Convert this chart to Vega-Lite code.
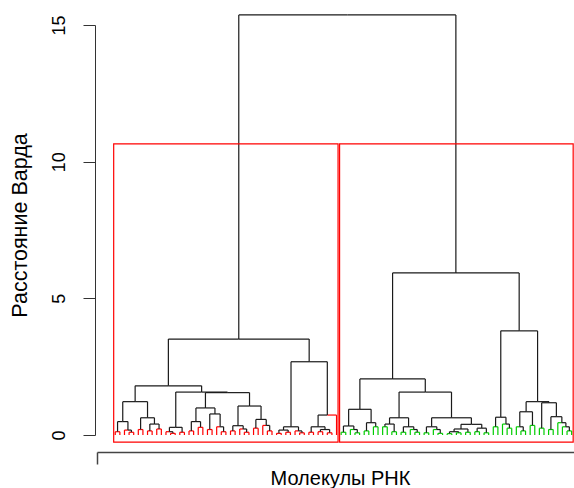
{
  "$schema": "https://vega.github.io/schema/vega-lite/v6.json",
  "width": 477,
  "height": 410,
  "autosize": {"type": "none"},
  "padding": {"left": 97, "top": 25, "right": 0, "bottom": 53},
  "config": {"view": {"stroke": null}, "font": "Liberation Sans"},
  "datasets": {
    "boxes": [
      {"x1": 0.66, "x2": 49.33, "y1": -0.26, "y2": 10.65},
      {"x1": 49.66, "x2": 100.33, "y1": -0.26, "y2": 10.65}
    ],
    "edges": [
      {"a":51.34,"b":15.37,"c":27.793,"d":3.51,"g":"k"},
      {"a":51.34,"b":15.37,"c":74.887,"d":5.93,"g":"k"},
      {"a":27.793,"b":3.51,"c":12.523,"d":1.8,"g":"k"},
      {"a":27.793,"b":3.51,"c":43.063,"d":2.68,"g":"k"},
      {"a":12.523,"b":1.8,"c":5.313,"d":1.22,"g":"k"},
      {"a":12.523,"b":1.8,"c":19.734,"d":1.57,"g":"k"},
      {"a":5.313,"b":1.22,"c":2.625,"d":0.49,"g":"k"},
      {"a":5.313,"b":1.22,"c":8,"d":0.63,"g":"k"},
      {"a":2.625,"b":0.49,"c":1.5,"d":0.12,"g":"k"},
      {"a":2.625,"b":0.49,"c":3.75,"d":0.18,"g":"k"},
      {"a":1.5,"b":0.12,"c":1,"d":0,"g":"r"},
      {"a":1.5,"b":0.12,"c":2,"d":0,"g":"r"},
      {"a":3.75,"b":0.18,"c":3,"d":0,"g":"r"},
      {"a":3.75,"b":0.18,"c":4.5,"d":0.1,"g":"k"},
      {"a":4.5,"b":0.1,"c":4,"d":0,"g":"r"},
      {"a":4.5,"b":0.1,"c":5,"d":0,"g":"r"},
      {"a":8,"b":0.63,"c":6.5,"d":0.2,"g":"k"},
      {"a":8,"b":0.63,"c":9.5,"d":0.4,"g":"k"},
      {"a":6.5,"b":0.2,"c":6,"d":0,"g":"r"},
      {"a":6.5,"b":0.2,"c":7,"d":0,"g":"r"},
      {"a":9.5,"b":0.4,"c":8.5,"d":0.15,"g":"k"},
      {"a":9.5,"b":0.4,"c":10.5,"d":0.22,"g":"k"},
      {"a":8.5,"b":0.15,"c":8,"d":0,"g":"r"},
      {"a":8.5,"b":0.15,"c":9,"d":0,"g":"r"},
      {"a":10.5,"b":0.22,"c":10,"d":0,"g":"r"},
      {"a":10.5,"b":0.22,"c":11,"d":0,"g":"r"},
      {"a":19.734,"b":1.57,"c":14.125,"d":0.28,"g":"k"},
      {"a":19.734,"b":1.57,"c":25.344,"d":1.55,"g":"k"},
      {"a":14.125,"b":0.28,"c":12.75,"d":0.12,"g":"k"},
      {"a":14.125,"b":0.28,"c":15.5,"d":0.1,"g":"k"},
      {"a":12.75,"b":0.12,"c":12,"d":0,"g":"r"},
      {"a":12.75,"b":0.12,"c":13.5,"d":0.06,"g":"k"},
      {"a":13.5,"b":0.06,"c":13,"d":0,"g":"r"},
      {"a":13.5,"b":0.06,"c":14,"d":0,"g":"r"},
      {"a":15.5,"b":0.1,"c":15,"d":0,"g":"r"},
      {"a":15.5,"b":0.1,"c":16,"d":0,"g":"r"},
      {"a":25.344,"b":1.55,"c":20.563,"d":0.99,"g":"k"},
      {"a":25.344,"b":1.55,"c":30.125,"d":1.06,"g":"k"},
      {"a":20.563,"b":0.99,"c":18.5,"d":0.49,"g":"k"},
      {"a":20.563,"b":0.99,"c":22.625,"d":0.77,"g":"k"},
      {"a":18.5,"b":0.49,"c":17.5,"d":0.15,"g":"k"},
      {"a":18.5,"b":0.49,"c":19.5,"d":0.28,"g":"k"},
      {"a":17.5,"b":0.15,"c":17,"d":0,"g":"r"},
      {"a":17.5,"b":0.15,"c":18,"d":0,"g":"r"},
      {"a":19.5,"b":0.28,"c":19,"d":0,"g":"r"},
      {"a":19.5,"b":0.28,"c":20,"d":0,"g":"r"},
      {"a":22.625,"b":0.77,"c":21.5,"d":0.2,"g":"k"},
      {"a":22.625,"b":0.77,"c":23.75,"d":0.3,"g":"k"},
      {"a":21.5,"b":0.2,"c":21,"d":0,"g":"r"},
      {"a":21.5,"b":0.2,"c":22,"d":0,"g":"r"},
      {"a":23.75,"b":0.3,"c":23,"d":0,"g":"r"},
      {"a":23.75,"b":0.3,"c":24.5,"d":0.12,"g":"k"},
      {"a":24.5,"b":0.12,"c":24,"d":0,"g":"r"},
      {"a":24.5,"b":0.12,"c":25,"d":0,"g":"r"},
      {"a":30.125,"b":1.06,"c":27.625,"d":0.34,"g":"k"},
      {"a":30.125,"b":1.06,"c":32.625,"d":0.57,"g":"k"},
      {"a":27.625,"b":0.34,"c":26.5,"d":0.15,"g":"k"},
      {"a":27.625,"b":0.34,"c":28.75,"d":0.22,"g":"k"},
      {"a":26.5,"b":0.15,"c":26,"d":0,"g":"r"},
      {"a":26.5,"b":0.15,"c":27,"d":0,"g":"r"},
      {"a":28.75,"b":0.22,"c":28,"d":0,"g":"r"},
      {"a":28.75,"b":0.22,"c":29.5,"d":0.1,"g":"k"},
      {"a":29.5,"b":0.1,"c":29,"d":0,"g":"r"},
      {"a":29.5,"b":0.1,"c":30,"d":0,"g":"r"},
      {"a":32.625,"b":0.57,"c":31.5,"d":0.25,"g":"k"},
      {"a":32.625,"b":0.57,"c":33.75,"d":0.35,"g":"k"},
      {"a":31.5,"b":0.25,"c":31,"d":0,"g":"r"},
      {"a":31.5,"b":0.25,"c":32,"d":0,"g":"r"},
      {"a":33.75,"b":0.35,"c":33,"d":0,"g":"r"},
      {"a":33.75,"b":0.35,"c":34.5,"d":0.15,"g":"k"},
      {"a":34.5,"b":0.15,"c":34,"d":0,"g":"r"},
      {"a":34.5,"b":0.15,"c":35,"d":0,"g":"r"},
      {"a":43.063,"b":2.68,"c":39.125,"d":0.3,"g":"k"},
      {"a":43.063,"b":2.68,"c":47,"d":0.73,"g":"k"},
      {"a":39.125,"b":0.3,"c":37.5,"d":0.18,"g":"k"},
      {"a":39.125,"b":0.3,"c":40.75,"d":0.15,"g":"k"},
      {"a":37.5,"b":0.18,"c":36.5,"d":0.06,"g":"k"},
      {"a":37.5,"b":0.18,"c":38.5,"d":0.1,"g":"k"},
      {"a":36.5,"b":0.06,"c":36,"d":0,"g":"r"},
      {"a":36.5,"b":0.06,"c":37,"d":0,"g":"r"},
      {"a":38.5,"b":0.1,"c":38,"d":0,"g":"r"},
      {"a":38.5,"b":0.1,"c":39,"d":0,"g":"r"},
      {"a":40.75,"b":0.15,"c":40,"d":0,"g":"r"},
      {"a":40.75,"b":0.15,"c":41.5,"d":0.08,"g":"k"},
      {"a":41.5,"b":0.08,"c":41,"d":0,"g":"r"},
      {"a":41.5,"b":0.08,"c":42,"d":0,"g":"r"},
      {"a":47,"b":0.73,"c":45,"d":0.3,"g":"k"},
      {"a":47,"b":0.73,"c":49,"d":0,"g":"r"},
      {"a":45,"b":0.3,"c":43.5,"d":0.1,"g":"k"},
      {"a":45,"b":0.3,"c":46.5,"d":0.2,"g":"k"},
      {"a":43.5,"b":0.1,"c":43,"d":0,"g":"r"},
      {"a":43.5,"b":0.1,"c":44,"d":0,"g":"r"},
      {"a":46.5,"b":0.2,"c":45.5,"d":0.12,"g":"k"},
      {"a":46.5,"b":0.2,"c":47.5,"d":0.08,"g":"k"},
      {"a":45.5,"b":0.12,"c":45,"d":0,"g":"r"},
      {"a":45.5,"b":0.12,"c":46,"d":0,"g":"r"},
      {"a":47.5,"b":0.08,"c":47,"d":0,"g":"r"},
      {"a":47.5,"b":0.08,"c":48,"d":0,"g":"r"},
      {"a":74.887,"b":5.93,"c":61.156,"d":2.05,"g":"k"},
      {"a":74.887,"b":5.93,"c":88.617,"d":3.81,"g":"k"},
      {"a":61.156,"b":2.05,"c":54.063,"d":0.94,"g":"k"},
      {"a":61.156,"b":2.05,"c":68.25,"d":1.57,"g":"k"},
      {"a":54.063,"b":0.94,"c":51.625,"d":0.33,"g":"k"},
      {"a":54.063,"b":0.94,"c":56.5,"d":0.45,"g":"k"},
      {"a":51.625,"b":0.33,"c":50.5,"d":0.1,"g":"k"},
      {"a":51.625,"b":0.33,"c":52.75,"d":0.2,"g":"k"},
      {"a":50.5,"b":0.1,"c":50,"d":0,"g":"g"},
      {"a":50.5,"b":0.1,"c":51,"d":0,"g":"g"},
      {"a":52.75,"b":0.2,"c":52,"d":0,"g":"g"},
      {"a":52.75,"b":0.2,"c":53.5,"d":0.08,"g":"k"},
      {"a":53.5,"b":0.08,"c":53,"d":0,"g":"g"},
      {"a":53.5,"b":0.08,"c":54,"d":0,"g":"g"},
      {"a":56.5,"b":0.45,"c":55.5,"d":0.15,"g":"k"},
      {"a":56.5,"b":0.45,"c":57.5,"d":0.3,"g":"k"},
      {"a":55.5,"b":0.15,"c":55,"d":0,"g":"g"},
      {"a":55.5,"b":0.15,"c":56,"d":0,"g":"g"},
      {"a":57.5,"b":0.3,"c":57,"d":0,"g":"g"},
      {"a":57.5,"b":0.3,"c":58,"d":0,"g":"g"},
      {"a":68.25,"b":1.57,"c":62.563,"d":0.63,"g":"k"},
      {"a":68.25,"b":1.57,"c":73.938,"d":0.63,"g":"k"},
      {"a":62.563,"b":0.63,"c":60.5,"d":0.4,"g":"k"},
      {"a":62.563,"b":0.63,"c":64.625,"d":0.3,"g":"k"},
      {"a":60.5,"b":0.4,"c":59.5,"d":0.3,"g":"k"},
      {"a":60.5,"b":0.4,"c":61.5,"d":0.12,"g":"k"},
      {"a":59.5,"b":0.3,"c":59,"d":0,"g":"g"},
      {"a":59.5,"b":0.3,"c":60,"d":0,"g":"g"},
      {"a":61.5,"b":0.12,"c":61,"d":0,"g":"g"},
      {"a":61.5,"b":0.12,"c":62,"d":0,"g":"g"},
      {"a":64.625,"b":0.3,"c":63.5,"d":0.1,"g":"k"},
      {"a":64.625,"b":0.3,"c":65.75,"d":0.2,"g":"k"},
      {"a":63.5,"b":0.1,"c":63,"d":0,"g":"g"},
      {"a":63.5,"b":0.1,"c":64,"d":0,"g":"g"},
      {"a":65.75,"b":0.2,"c":65,"d":0,"g":"g"},
      {"a":65.75,"b":0.2,"c":66.5,"d":0.1,"g":"k"},
      {"a":66.5,"b":0.1,"c":66,"d":0,"g":"g"},
      {"a":66.5,"b":0.1,"c":67,"d":0,"g":"g"},
      {"a":73.938,"b":0.63,"c":69.625,"d":0.3,"g":"k"},
      {"a":73.938,"b":0.63,"c":78.25,"d":0.39,"g":"k"},
      {"a":69.625,"b":0.3,"c":68.5,"d":0.08,"g":"k"},
      {"a":69.625,"b":0.3,"c":70.75,"d":0.2,"g":"k"},
      {"a":68.5,"b":0.08,"c":68,"d":0,"g":"g"},
      {"a":68.5,"b":0.08,"c":69,"d":0,"g":"g"},
      {"a":70.75,"b":0.2,"c":70,"d":0,"g":"g"},
      {"a":70.75,"b":0.2,"c":71.5,"d":0.06,"g":"k"},
      {"a":71.5,"b":0.06,"c":71,"d":0,"g":"g"},
      {"a":71.5,"b":0.06,"c":72,"d":0,"g":"g"},
      {"a":78.25,"b":0.39,"c":76,"d":0.22,"g":"k"},
      {"a":78.25,"b":0.39,"c":80.5,"d":0.25,"g":"k"},
      {"a":76,"b":0.22,"c":74.5,"d":0.12,"g":"k"},
      {"a":76,"b":0.22,"c":77.5,"d":0.1,"g":"k"},
      {"a":74.5,"b":0.12,"c":73.5,"d":0.05,"g":"k"},
      {"a":74.5,"b":0.12,"c":75.5,"d":0.08,"g":"k"},
      {"a":73.5,"b":0.05,"c":73,"d":0,"g":"g"},
      {"a":73.5,"b":0.05,"c":74,"d":0,"g":"g"},
      {"a":75.5,"b":0.08,"c":75,"d":0,"g":"g"},
      {"a":75.5,"b":0.08,"c":76,"d":0,"g":"g"},
      {"a":77.5,"b":0.1,"c":77,"d":0,"g":"g"},
      {"a":77.5,"b":0.1,"c":78,"d":0,"g":"g"},
      {"a":80.5,"b":0.25,"c":79.5,"d":0.12,"g":"k"},
      {"a":80.5,"b":0.25,"c":81.5,"d":0.08,"g":"k"},
      {"a":79.5,"b":0.12,"c":79,"d":0,"g":"g"},
      {"a":79.5,"b":0.12,"c":80,"d":0,"g":"g"},
      {"a":81.5,"b":0.08,"c":81,"d":0,"g":"g"},
      {"a":81.5,"b":0.08,"c":82,"d":0,"g":"g"},
      {"a":88.617,"b":3.81,"c":84.625,"d":0.65,"g":"k"},
      {"a":88.617,"b":3.81,"c":92.609,"d":1.22,"g":"k"},
      {"a":84.625,"b":0.65,"c":83.5,"d":0.3,"g":"k"},
      {"a":84.625,"b":0.65,"c":85.75,"d":0.4,"g":"k"},
      {"a":83.5,"b":0.3,"c":83,"d":0,"g":"g"},
      {"a":83.5,"b":0.3,"c":84,"d":0,"g":"g"},
      {"a":85.75,"b":0.4,"c":85,"d":0,"g":"g"},
      {"a":85.75,"b":0.4,"c":86.5,"d":0.25,"g":"k"},
      {"a":86.5,"b":0.25,"c":86,"d":0,"g":"g"},
      {"a":86.5,"b":0.25,"c":87,"d":0,"g":"g"},
      {"a":92.609,"b":1.22,"c":90.125,"d":0.85,"g":"k"},
      {"a":92.609,"b":1.22,"c":95.094,"d":1.18,"g":"k"},
      {"a":90.125,"b":0.85,"c":88.75,"d":0.3,"g":"k"},
      {"a":90.125,"b":0.85,"c":91.5,"d":0.35,"g":"k"},
      {"a":88.75,"b":0.3,"c":88,"d":0,"g":"g"},
      {"a":88.75,"b":0.3,"c":89.5,"d":0.15,"g":"k"},
      {"a":89.5,"b":0.15,"c":89,"d":0,"g":"g"},
      {"a":89.5,"b":0.15,"c":90,"d":0,"g":"g"},
      {"a":91.5,"b":0.35,"c":91,"d":0,"g":"g"},
      {"a":91.5,"b":0.35,"c":92,"d":0,"g":"g"},
      {"a":95.094,"b":1.18,"c":93.5,"d":0.25,"g":"k"},
      {"a":95.094,"b":1.18,"c":96.688,"d":0.67,"g":"k"},
      {"a":93.5,"b":0.25,"c":93,"d":0,"g":"g"},
      {"a":93.5,"b":0.25,"c":94,"d":0,"g":"g"},
      {"a":96.688,"b":0.67,"c":95.5,"d":0.2,"g":"k"},
      {"a":96.688,"b":0.67,"c":97.875,"d":0.45,"g":"k"},
      {"a":95.5,"b":0.2,"c":95,"d":0,"g":"g"},
      {"a":95.5,"b":0.2,"c":96,"d":0,"g":"g"},
      {"a":97.875,"b":0.45,"c":97,"d":0,"g":"g"},
      {"a":97.875,"b":0.45,"c":98.75,"d":0.3,"g":"k"},
      {"a":98.75,"b":0.3,"c":98,"d":0,"g":"g"},
      {"a":98.75,"b":0.3,"c":99.5,"d":0.15,"g":"k"},
      {"a":99.5,"b":0.15,"c":99,"d":0,"g":"g"},
      {"a":99.5,"b":0.15,"c":100,"d":0,"g":"g"}
    ]
  },
  "layer": [
    {
      "data": {"name": "edges"},
      "mark": {"type": "rule", "strokeWidth": 1.2},
      "encoding": {
        "x": {
          "field": "a", "type": "quantitative",
          "scale": {"domain": [-2.96, 100.51], "nice": false, "zero": false},
          "axis": {
            "title": "Молекулы РНК", "values": [-2.95], "labels": false, "grid": false,
            "offset": 17, "tickSize": 12, "domainColor": "#444444", "tickColor": "#444444",
            "domainWidth": 1.5, "tickWidth": 1.5,
            "titleFontSize": 20, "titleFontWeight": "normal", "titleColor": "#000000",
            "titleFont": "Liberation Sans",
            "titleX": 243, "titleY": 32, "titleBaseline": "alphabetic", "titleAlign": "center"
          }
        },
        "x2": {"field": "c"},
        "y": {
          "field": "b", "type": "quantitative",
          "scale": {"domain": [0, 15], "nice": false, "zero": false},
          "axis": {
            "title": "Расстояние Варда", "values": [0, 5, 10, 15], "grid": false,
            "offset": 2, "tickSize": 12, "tickColor": "#333333", "domainColor": "#333333",
            "labelAngle": 270, "labelAlign": "center", "labelBaseline": "alphabetic",
            "labelPadding": 19, "labelFontSize": 18, "labelColor": "#000000",
            "labelFont": "Liberation Sans",
            "titleFontSize": 21.5, "titleFontWeight": "normal", "titleColor": "#000000",
            "titleFont": "Liberation Sans",
            "titleAngle": 270, "titleX": -69, "titleY": 200,
            "titleBaseline": "alphabetic", "titleAlign": "center"
          }
        },
        "color": {
          "field": "g", "type": "nominal",
          "scale": {"domain": ["k", "r", "g"], "range": ["#1a1a1a", "#ff0000", "#00cd00"]},
          "legend": null
        }
      }
    },
    {
      "data": {"name": "edges"},
      "mark": {"type": "rule", "strokeWidth": 1.2},
      "encoding": {
        "x": {"field": "c", "type": "quantitative"},
        "y": {"field": "b", "type": "quantitative"},
        "y2": {"field": "d"},
        "color": {"field": "g", "type": "nominal", "legend": null}
      }
    },
    {
      "data": {"name": "boxes"},
      "mark": {"type": "rect", "filled": false, "stroke": "#ff0000", "strokeWidth": 1.2},
      "encoding": {
        "x": {"field": "x1", "type": "quantitative"},
        "x2": {"field": "x2"},
        "y": {"field": "y1", "type": "quantitative"},
        "y2": {"field": "y2"}
      }
    }
  ]
}
